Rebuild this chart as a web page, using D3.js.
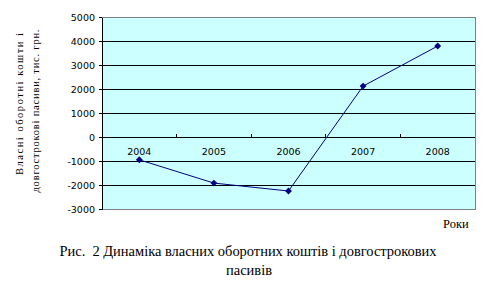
<!DOCTYPE html>
<html>
<head>
<meta charset="utf-8">
<script src="https://cdn.jsdelivr.net/npm/d3@7"></script>
<style>
  body { margin: 0; background: #fff; }
</style>
</head>
<body>
<div id="chart"></div>
<script>
// data
var years = ["2004", "2005", "2006", "2007", "2008"];
var values = [-950, -1920, -2250, 2120, 3790];
var yTicks = [-3000, -2000, -1000, 0, 1000, 2000, 3000, 4000, 5000];

var SERIF = "'Liberation Serif', 'Times New Roman', serif";
var SANS = "'DejaVu Sans', Verdana, sans-serif";

var W = 500, H = 306;
var margin = {top: 17, right: 25, bottom: 97, left: 102},
    width = W - margin.left - margin.right,
    height = H - margin.top - margin.bottom;

var svg = d3.select("#chart")
  .append("svg")
    .attr("width", W)
    .attr("height", H);

var g = svg.append("g")
    .attr("transform", "translate(" + margin.left + "," + margin.top + ")");

var x = d3.scaleBand()
    .domain(years)
    .range([0, width]);

var y = d3.scaleLinear()
    .domain([-3000, 5000])
    .range([height, 0]);

// plot background
g.append("rect")
    .attr("width", width)
    .attr("height", height)
    .attr("fill", "#ccffff");

// gridlines
g.selectAll(".grid")
  .data(yTicks.filter(function(d) { return d > -3000 && d < 5000; }))
  .enter().append("line")
    .attr("x1", 0).attr("x2", width)
    .attr("y1", function(d) { return y(d); })
    .attr("y2", function(d) { return y(d); })
    .attr("stroke", "#000")
    .attr("stroke-width", 1)
    .attr("shape-rendering", "crispEdges");

// border
g.append("rect")
    .attr("width", width)
    .attr("height", height)
    .attr("fill", "none")
    .attr("stroke", "#808080")
    .attr("shape-rendering", "crispEdges");

// y axis
var yAxis = g.append("g")
    .call(d3.axisLeft(y).tickValues(yTicks)
      .tickFormat(function(d) { return String(d); })
      .tickSize(3).tickSizeOuter(0).tickPadding(4));
yAxis.select(".domain").attr("stroke", "#000").attr("shape-rendering", "crispEdges");
yAxis.selectAll(".tick line").attr("stroke", "#000").attr("shape-rendering", "crispEdges");
yAxis.selectAll("text")
    .style("font-family", SANS)
    .style("font-size", "9.5px")
    .attr("fill", "#000");

// x axis on the zero line, ticks at band edges pointing up
var xg = g.append("g")
    .attr("transform", "translate(0," + y(0) + ")");
xg.append("line")
    .attr("x1", 0).attr("x2", width)
    .attr("stroke", "#000")
    .attr("shape-rendering", "crispEdges");
xg.selectAll(".xtick")
  .data(years.slice(1))
  .enter().append("line")
    .attr("x1", function(d) { return x(d); })
    .attr("x2", function(d) { return x(d); })
    .attr("y1", 0).attr("y2", -3)
    .attr("stroke", "#000")
    .attr("shape-rendering", "crispEdges");
xg.selectAll(".xlab")
  .data(years)
  .enter().append("text")
    .attr("x", function(d) { return x(d) + x.bandwidth() / 2; })
    .attr("y", 18)
    .attr("text-anchor", "middle")
    .style("font-family", SANS)
    .style("font-size", "9.5px")
    .text(function(d) { return d; });

// line
var line = d3.line()
    .x(function(d, i) { return x(years[i]) + x.bandwidth() / 2; })
    .y(function(d) { return y(d); });

g.append("path")
    .datum(values)
    .attr("fill", "none")
    .attr("stroke", "#000080")
    .attr("stroke-width", 1)
    .attr("d", line);

g.selectAll(".marker")
  .data(values)
  .enter().append("path")
    .attr("d", d3.symbol().type(d3.symbolDiamond2).size(30))
    .attr("transform", function(d, i) {
      return "translate(" + (x(years[i]) + x.bandwidth() / 2) + "," + y(d) + ")";
    })
    .attr("fill", "#000080");

// y axis title
svg.append("text")
    .attr("transform", "translate(23,104) rotate(-90)")
    .attr("text-anchor", "middle")
    .attr("textLength", 142)
    .attr("lengthAdjust", "spacing")
    .style("font-family", SERIF)
    .style("font-size", "10.5px")
    .text("Власні оборотні кошти і");
svg.append("text")
    .attr("transform", "translate(39,111) rotate(-90)")
    .attr("text-anchor", "middle")
    .attr("textLength", 163)
    .attr("lengthAdjust", "spacing")
    .style("font-family", SERIF)
    .style("font-size", "10.5px")
    .text("довгострокові пасиви, тис. грн.");

// x axis title
svg.append("text")
    .attr("x", 443)
    .attr("y", 228)
    .style("font-family", SERIF)
    .style("font-size", "12.5px")
    .text("Роки");

// caption
svg.append("text")
    .attr("x", 248)
    .attr("y", 256)
    .attr("text-anchor", "middle")
    .attr("textLength", 377)
    .attr("lengthAdjust", "spacing")
    .style("font-family", SERIF)
    .style("font-size", "14.5px")
    .style("white-space", "pre")
    .text("Рис.  2 Динаміка власних оборотних коштів і довгострокових");
svg.append("text")
    .attr("x", 249)
    .attr("y", 275)
    .attr("text-anchor", "middle")
    .style("font-family", SERIF)
    .style("font-size", "14.5px")
    .text("пасивів");
</script>
</body>
</html>
